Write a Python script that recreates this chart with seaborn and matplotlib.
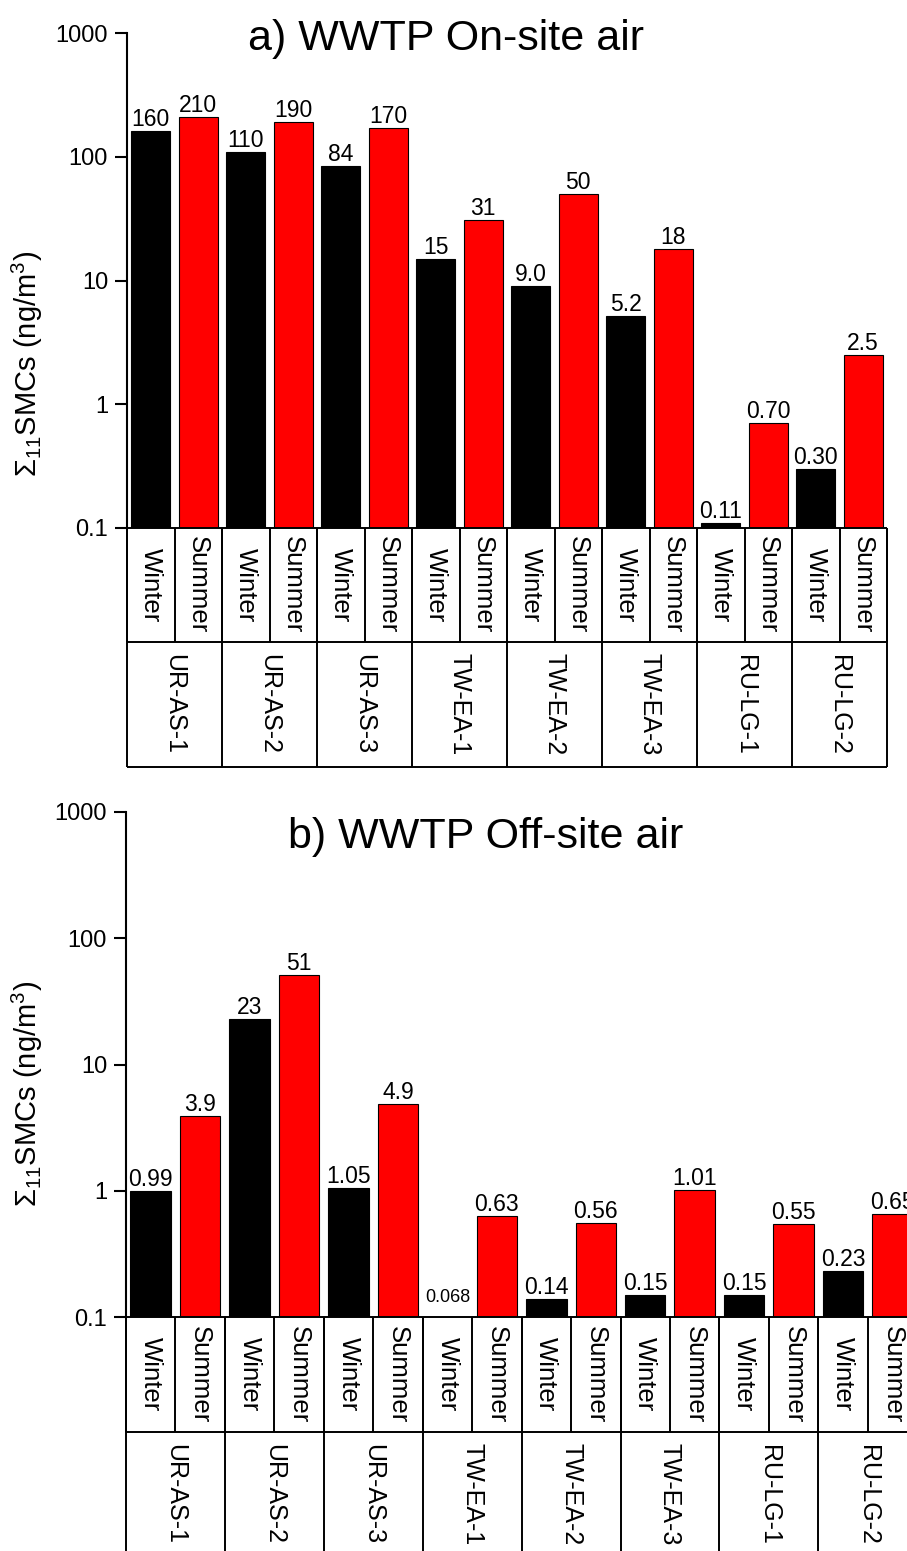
import numpy as np
import pandas as pd
import seaborn as sns
import matplotlib.pyplot as plt
from matplotlib.ticker import NullLocator

# values as printed on the bars
sites = ['UR-AS-1', 'UR-AS-2', 'UR-AS-3', 'TW-EA-1', 'TW-EA-2', 'TW-EA-3', 'RU-LG-1', 'RU-LG-2']
seasons = ['Winter', 'Summer']
onsite_winter = ['160', '110', '84', '15', '9.0', '5.2', '0.11', '0.30']
onsite_summer = ['210', '190', '170', '31', '50', '18', '0.70', '2.5']
offsite_winter = ['0.99', '23', '1.05', '0.068', '0.14', '0.15', '0.15', '0.23']
offsite_summer = ['3.9', '51', '4.9', '0.63', '0.56', '1.01', '0.55', '0.65']
ytick_vals = [0.1, 1, 10, 100, 1000]
ytick_labels = ['0.1', '1', '10', '100', '1000']

W, H = 907, 1551
sns.set_style('ticks')
plt.rcParams['font.family'] = ['Liberation Sans', 'DejaVu Sans']
plt.rcParams['mathtext.fontset'] = 'custom'
plt.rcParams['mathtext.rm'] = 'Liberation Sans'
plt.rcParams['mathtext.it'] = 'Liberation Sans:italic'
for key in ['text.color', 'axes.labelcolor', 'xtick.color', 'ytick.color', 'axes.edgecolor']:
    plt.rcParams[key] = 'black'

fig = plt.figure(figsize=(W / 100, H / 100), dpi=100)


def px_axes(left, top, width, height):
    return fig.add_axes([left / W, 1 - (top + height) / H, width / W, height / H])


def make_df(winter, summer):
    rows = []
    for site, w, s in zip(sites, winter, summer):
        for season, lab in zip(seasons, [w, s]):
            rows.append({'key': site + ' ' + season, 'site': site, 'season': season,
                         'label': lab, 'value': float(lab)})
    return pd.DataFrame(rows)


def draw_panel(df, title, left, top, slot, height, title_x, title_y, ylab_y, row1, row2):
    n = len(df)
    width = slot * n
    ax = px_axes(left, top, width, height)
    ax.set_yscale('log')
    sns.barplot(data=df, x='key', y='value', hue='season', order=list(df['key']),
                palette={'Winter': 'black', 'Summer': 'red'}, dodge=False, width=0.82,
                saturation=1, edgecolor='black', linewidth=0.8, errorbar=None,
                legend=False, ax=ax)
    ax.set_ylim(0.1, 1000)
    ax.set_xlim(-0.5, n - 0.5)
    ax.set_yticks(ytick_vals)
    ax.set_yticklabels(ytick_labels)
    ax.yaxis.set_minor_locator(NullLocator())
    ax.set_xticks([])
    ax.set_xlabel('')
    ax.set_ylabel('')
    sns.despine(ax=ax, bottom=True)
    ax.spines['left'].set_linewidth(1.5)
    ax.tick_params(axis='y', length=8.6, width=1.5, labelsize=17, pad=5)

    for i, row in df.iterrows():
        if row['value'] >= 0.1:
            ax.text(i, row['value'], row['label'], ha='center', va='bottom', fontsize=16.5)
        else:
            ax.annotate(row['label'], (i, 0.1), xytext=(0, 11), textcoords='offset points',
                        ha='center', va='baseline', fontsize=13)

    # category table under the bars
    ax_t = px_axes(left, top + height, width, row1 + row2)
    ax_t.set_xlim(-0.5, n - 0.5)
    ax_t.set_ylim(row1 + row2, 0)
    ax_t.axis('off')
    lw = 1.4
    ax_t.hlines([0, row1, row1 + row2], -0.5, n - 0.5, color='black', lw=lw, clip_on=False)
    ax_t.vlines(np.arange(-0.5, n, 1), 0, row1, color='black', lw=lw, clip_on=False)
    ax_t.vlines(np.arange(-0.5, n, 2), 0, row1 + row2, color='black', lw=lw, clip_on=False)
    for i, row in df.iterrows():
        ax_t.text(i, row1 / 2, row['season'], rotation=-90, ha='center', va='center', fontsize=18.5)
    for j, site in enumerate(sites):
        ax_t.text(2 * j + 0.5, row1 + row2 / 2, site, rotation=-90, ha='center', va='center',
                  fontsize=18)

    fig.text(title_x / W, 1 - title_y / H, title, ha='center', va='baseline', fontsize=31)
    fig.text(27 / W, 1 - ylab_y / H, r'Σ$_{11}$SMCs (ng/m$^{3}$)', rotation=90,
             ha='center', va='center', fontsize=21)
    return ax


onsite = make_df(onsite_winter, onsite_summer)
offsite = make_df(offsite_winter, offsite_summer)

draw_panel(onsite, 'a) WWTP On-site air', left=127, top=33, slot=47.5, height=495,
           title_x=446, title_y=50, ylab_y=364, row1=114, row2=125)
draw_panel(offsite, 'b) WWTP Off-site air', left=126, top=812, slot=49.45, height=505,
           title_x=486, title_y=848, ylab_y=1094, row1=115, row2=125)

plt.savefig('out.png', dpi=100)
plt.close()
